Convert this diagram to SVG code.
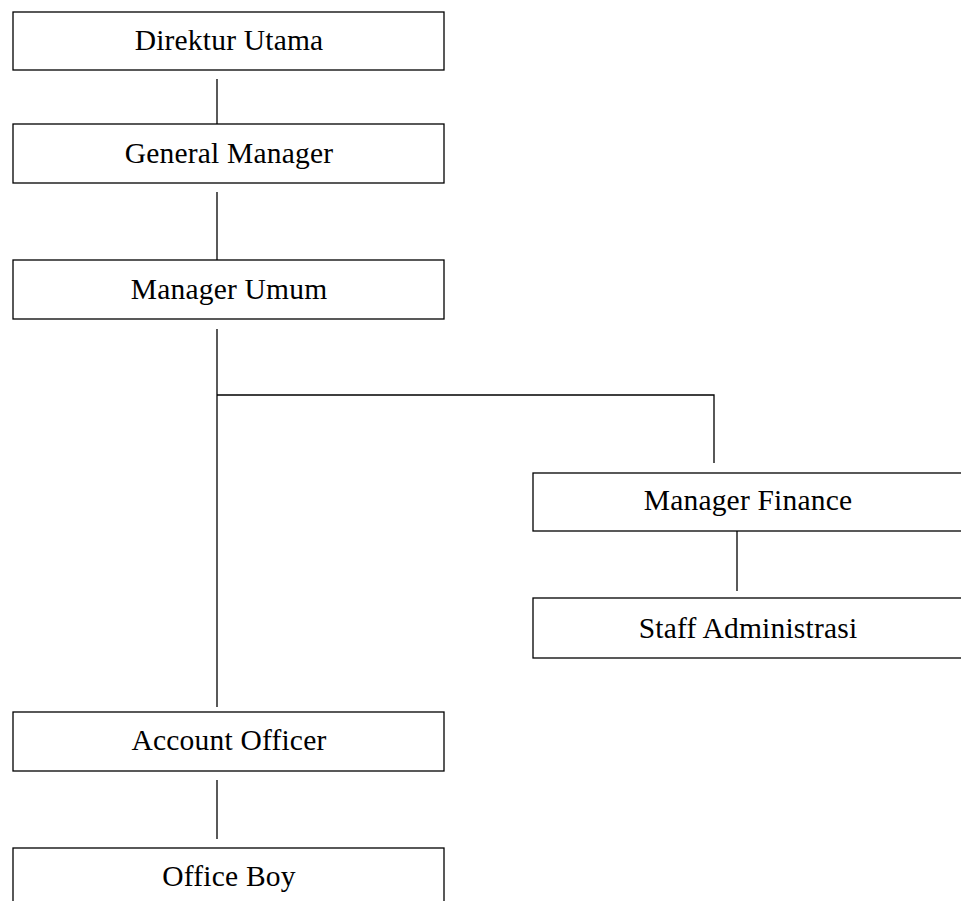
<svg xmlns="http://www.w3.org/2000/svg" width="961" height="901" viewBox="0 0 961 901">
<style>
.box{fill:#fff;stroke:#000;stroke-width:1.3}
.lbl{font-family:"Liberation Serif","Times New Roman",serif;font-size:29.5px;letter-spacing:0.2px;fill:#000;text-anchor:middle}
.con{stroke:#000;stroke-width:1.3;fill:none}
</style>
<rect width="961" height="901" fill="#fff"/>
<g id="connectors">
<line class="con" x1="217" y1="79" x2="217" y2="124"/>
<line class="con" x1="217" y1="192" x2="217" y2="260"/>
<line class="con" x1="217" y1="329" x2="217" y2="707"/>
<polyline class="con" points="217,395 714,395 714,463"/>
<line class="con" x1="737" y1="531" x2="737" y2="591"/>
<line class="con" x1="217" y1="780" x2="217" y2="839"/>
</g>
<g id="direktur-utama"><rect class="box" x="13" y="12" width="431" height="58"/><text class="lbl" x="229" y="50">Direktur Utama</text></g>
<g id="general-manager"><rect class="box" x="13" y="124" width="431" height="59"/><text class="lbl" x="229" y="163">General Manager</text></g>
<g id="manager-umum"><rect class="box" x="13" y="260" width="431" height="59"/><text class="lbl" x="229" y="299">Manager Umum</text></g>
<g id="manager-finance"><rect class="box" x="533" y="473" width="429" height="58"/><text class="lbl" x="748" y="510">Manager Finance</text></g>
<g id="staff-administrasi"><rect class="box" x="533" y="598" width="429" height="60"/><text class="lbl" x="748" y="638">Staff Administrasi</text></g>
<g id="account-officer"><rect class="box" x="13" y="712" width="431" height="59"/><text class="lbl" x="229" y="750">Account Officer</text></g>
<g id="office-boy"><rect class="box" x="13" y="848" width="431" height="60"/><text class="lbl" x="229" y="886">Office Boy</text></g>
</svg>
